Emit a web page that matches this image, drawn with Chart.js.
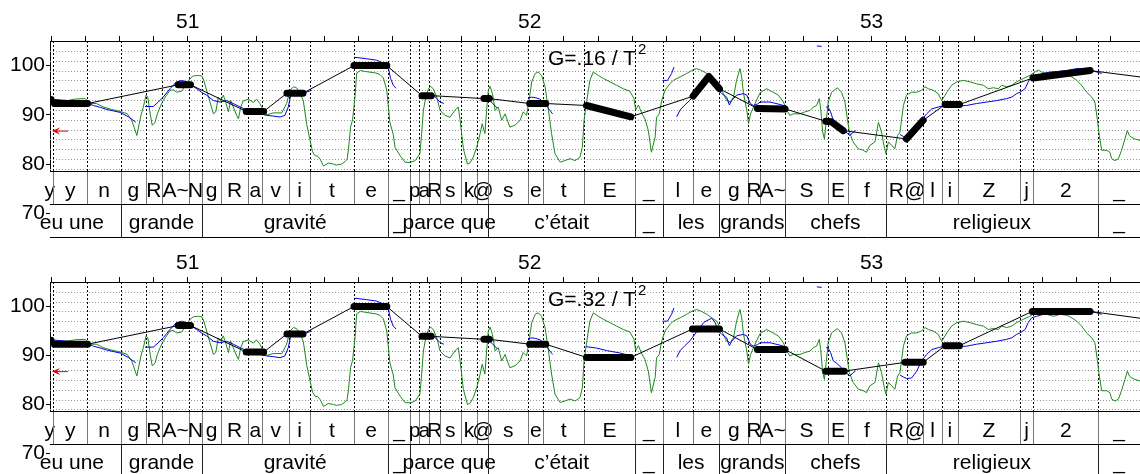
<!DOCTYPE html>
<html>
<head>
<meta charset="utf-8">
<script src="https://cdn.jsdelivr.net/npm/chart.js@4/dist/chart.umd.min.js"></script>
<style>
  html, body { margin: 0; padding: 0; background: #fff; overflow: hidden; }
  canvas { display: block; }
</style>
</head>
<body>
<canvas id="panelA" width="1140" height="241"></canvas>
<canvas id="panelB" width="1140" height="240"></canvas>
<script>
// time window (s) and value axis (ST)
const timeMin = 50.597;
const timeMax = 53.785;
const timeTicks = [50.6, 50.7, 50.8, 50.9, 51.0, 51.1, 51.2, 51.3, 51.4, 51.5, 51.6, 51.7, 51.8, 51.9,
  52.0, 52.1, 52.2, 52.3, 52.4, 52.5, 52.6, 52.7, 52.8, 52.9, 53.0, 53.1, 53.2, 53.3, 53.4, 53.5, 53.6, 53.7];
const valueTicks = [70, 80, 90, 100];
const gridLevels = [79, 81, 83, 85, 87, 89, 91, 93, 95, 97, 99, 101, 103];
const refLevel = 86.7;

// phoneme and word tiers: [start, label], end of last interval below
const phones = [
  [50.585, 'y'], [50.607, 'y'], [50.706, 'n'], [50.804, 'g'], [50.877, 'R'], [50.925, 'A~'], [51.004, 'N'],
  [51.042, 'g'], [51.097, 'R'], [51.177, 'a'], [51.218, 'v'], [51.297, 'i'], [51.357, 't'], [51.486, 'e'],
  [51.586, '_'], [51.650, 'p'], [51.677, 'a'], [51.706, 'R'], [51.738, 's'], [51.798, 'k'], [51.847, '@'],
  [51.879, 's'], [51.996, 'e'], [52.040, 't'], [52.159, 'E'], [52.308, '_'], [52.389, 'l'], [52.478, 'e'],
  [52.555, 'g'], [52.639, 'R'], [52.674, 'A~'], [52.747, 'S'], [52.872, 'E'], [52.932, 'f'], [53.041, 'R'],
  [53.103, '@'], [53.151, 'l'], [53.205, 'i'], [53.252, 'Z'], [53.434, 'j'], [53.473, '2'], [53.663, '_']
];
const words = [
  [50.518, 'eu une'], [50.804, 'grande'], [51.042, 'gravité'], [51.586, '_'], [51.650, 'parce que'],
  [51.879, 'c’était'], [52.308, '_'], [52.389, 'les'], [52.555, 'grands'], [52.747, 'chefs'],
  [53.041, 'religieux'], [53.663, '_']
];
const tierEnd = 53.785;

// intensity (green)
const intensity = [
  [50.600,92.6],[50.640,92.8],[50.670,93.2],[50.700,93.3],[50.714,92.3],[50.733,92.3],[50.753,91.6],[50.777,91.1],
  [50.802,90.7],[50.823,90.2],[50.836,88.9],[50.851,85.8],[50.863,89.9],[50.870,91.6],[50.878,94.0],[50.883,93.6],
  [50.890,90.2],[50.896,87.9],[50.904,88.4],[50.911,90.2],[50.919,91.6],[50.928,92.9],[50.938,94.0],[50.948,95.0],
  [50.958,95.1],[50.967,94.6],[50.982,94.8],[50.992,95.8],[51.006,97.3],[51.016,97.9],[51.031,98.0],[51.041,97.9],
  [51.047,97.0],[51.055,95.0],[51.065,92.6],[51.075,90.2],[51.082,90.6],[51.089,93.6],[51.096,92.9],[51.104,94.0],
  [51.112,92.3],[51.119,90.6],[51.125,93.0],[51.133,91.6],[51.143,89.9],[51.148,89.2],[51.155,91.6],[51.162,92.8],
  [51.177,93.2],[51.192,92.5],[51.201,93.2],[51.211,92.3],[51.221,90.9],[51.231,90.0],[51.250,90.4],[51.275,90.4],
  [51.289,92.3],[51.299,95.0],[51.309,95.7],[51.318,95.5],[51.328,94.5],[51.338,92.8],[51.348,88.0],[51.357,85.0],
  [51.365,82.5],[51.372,81.7],[51.380,81.6],[51.387,81.0],[51.397,79.6],[51.411,80.2],[51.426,80.0],[51.435,79.8],
  [51.450,80.0],[51.460,80.5],[51.466,81.0],[51.470,83.0],[51.476,87.5],[51.482,89.0],[51.489,93.6],[51.494,98.5],
  [51.505,99.0],[51.520,98.8],[51.550,98.5],[51.562,98.2],[51.572,97.5],[51.582,95.0],[51.591,88.5],[51.601,86.0],
  [51.606,83.4],[51.621,81.7],[51.635,80.4],[51.650,80.3],[51.665,80.7],[51.679,82.1],[51.684,86.2],[51.689,90.9],
  [51.696,93.6],[51.704,95.3],[51.710,95.8],[51.718,95.3],[51.728,93.6],[51.738,90.9],[51.752,89.9],[51.767,89.5],
  [51.781,90.9],[51.791,91.6],[51.796,89.2],[51.806,83.1],[51.818,80.0],[51.825,80.2],[51.835,81.4],[51.845,83.4],
  [51.855,86.2],[51.861,88.2],[51.869,86.2],[51.874,90.9],[51.879,95.0],[51.884,95.8],[51.891,94.3],[51.899,90.9],
  [51.908,91.6],[51.918,88.9],[51.928,90.2],[51.942,87.5],[51.957,87.9],[51.972,88.9],[51.981,90.6],[51.991,89.9],
  [51.998,92.9],[52.006,96.7],[52.016,98.4],[52.025,98.7],[52.035,98.0],[52.045,95.7],[52.055,90.9],[52.064,86.2],
  [52.074,82.1],[52.089,80.4],[52.103,80.7],[52.118,81.1],[52.133,80.7],[52.147,81.4],[52.154,83.4],[52.159,88.9],
  [52.167,92.9],[52.176,97.0],[52.186,98.7],[52.201,98.0],[52.215,97.4],[52.235,96.7],[52.254,96.0],[52.274,95.3],
  [52.293,94.8],[52.305,93.3],[52.310,91.0],[52.318,92.0],[52.328,90.3],[52.337,89.2],[52.347,86.8],[52.356,82.4],
  [52.367,85.5],[52.371,89.5],[52.379,90.2],[52.386,92.9],[52.396,95.0],[52.410,96.3],[52.420,97.0],[52.440,97.7],
  [52.459,98.4],[52.474,99.0],[52.488,99.4],[52.503,99.0],[52.518,98.4],[52.532,97.7],[52.547,97.0],[52.557,95.7],
  [52.576,92.9],[52.586,92.6],[52.596,93.6],[52.605,97.0],[52.615,99.4],[52.620,97.7],[52.625,94.5],[52.635,90.9],
  [52.640,88.2],[52.646,90.2],[52.659,92.3],[52.674,94.5],[52.693,95.3],[52.712,94.6],[52.727,94.0],[52.742,92.6],
  [52.752,90.9],[52.761,89.9],[52.771,90.2],[52.790,90.2],[52.805,90.6],[52.820,90.9],[52.830,91.6],[52.839,91.9],
  [52.847,93.3],[52.851,91.2],[52.857,86.5],[52.862,85.1],[52.867,88.5],[52.873,92.6],[52.883,94.6],[52.900,95.5],
  [52.912,94.6],[52.922,92.6],[52.929,89.2],[52.935,86.5],[52.946,84.5],[52.961,83.1],[52.976,82.8],[52.985,82.4],
  [52.995,83.8],[53.010,84.5],[53.020,88.5],[53.029,86.5],[53.036,83.8],[53.042,82.1],[53.049,84.5],[53.059,83.8],
  [53.068,83.1],[53.076,85.8],[53.083,86.5],[53.093,91.9],[53.102,94.0],[53.117,94.6],[53.132,94.6],[53.146,95.0],
  [53.156,95.7],[53.166,95.3],[53.180,95.0],[53.195,94.3],[53.205,92.9],[53.215,94.0],[53.220,94.6],[53.234,96.0],
  [53.249,96.7],[53.268,97.0],[53.288,96.7],[53.307,96.3],[53.327,96.0],[53.341,95.3],[53.356,95.5],[53.371,95.3],
  [53.380,96.0],[53.395,95.7],[53.410,96.0],[53.424,96.7],[53.444,97.4],[53.463,98.0],[53.478,98.7],[53.488,99.1],
  [53.497,98.7],[53.512,98.4],[53.532,98.0],[53.551,98.4],[53.571,98.2],[53.585,97.7],[53.600,97.0],[53.614,96.0],
  [53.629,94.6],[53.644,93.6],[53.653,92.6],[53.660,89.2],[53.666,85.8],[53.673,82.8],[53.688,82.8],[53.697,82.4],
  [53.702,81.1],[53.712,80.7],[53.722,81.1],[53.731,82.8],[53.741,85.1],[53.748,86.8],[53.754,85.8],[53.761,85.4],
  [53.770,85.1],[53.785,84.8]
];

// pitch (blue), voiced stretches
const pitch = [
  [[50.597,93.2],[50.650,92.9],[50.706,92.4],[50.724,91.9],[50.745,91.5],[50.763,91.1],[50.782,90.8],[50.802,90.5],[50.826,89.6],[50.848,88.5]],
  [[50.875,91.7],[50.899,91.7],[50.914,92.6],[50.928,93.6],[50.948,95.3],[50.967,96.7],[50.982,97.0],[50.997,96.7],
   [51.011,96.0],[51.026,95.3],[51.040,94.6],[51.055,94.0],[51.075,92.9],[51.094,92.6],[51.114,92.9],[51.133,92.3],
   [51.153,91.6],[51.172,91.0],[51.192,90.6],[51.211,90.2],[51.231,89.9],[51.250,89.75],[51.270,89.55],[51.284,89.9],
   [51.294,91.6],[51.301,94.0],[51.309,94.85],[51.323,94.6],[51.338,94.4],[51.362,94.97]],
  [[51.487,101.7],[51.523,101.4],[51.552,101.1],[51.577,100.4],[51.587,99.4],[51.593,97.4],[51.601,96.0],[51.609,95.4]],
  [[51.690,94.0],[51.700,94.4],[51.718,94.1],[51.728,93.3],[51.738,92.6],[51.749,92.3]],
  [[51.864,93.6],[51.880,93.1],[51.892,92.3],[51.905,91.4]],
  [[51.996,93.4],[52.006,93.6],[52.016,93.5],[52.030,93.2],[52.045,92.3],[52.059,90.9],[52.067,90.2]],
  [[52.165,91.8],[52.196,91.5],[52.225,91.0],[52.264,90.5],[52.293,90.0]],
  [[52.389,97.0],[52.403,97.0],[52.415,98.4],[52.422,99.7]],
  [[52.430,89.6],[52.440,91.0],[52.454,92.0],[52.469,93.0],[52.490,95.0],[52.510,96.8],[52.532,97.6],[52.541,96.9],
   [52.552,95.0],[52.562,94.3],[52.576,93.6],[52.584,92.0],[52.591,92.9],[52.605,94.0],[52.625,94.3],[52.635,94.0],
   [52.645,92.3],[52.654,91.9],[52.666,92.2],[52.674,92.6],[52.703,92.6],[52.732,92.1],[52.747,91.8]],
  [[52.840,104.0],[52.854,103.9]],
  [[52.867,91.6],[52.873,91.5],[52.880,90.6],[52.888,88.9],[52.898,88.4],[52.912,87.5],[52.922,86.8],[52.929,86.2],
   [52.937,85.8],[52.946,86.5],[52.953,86.8]],
  [[53.083,86.0],[53.093,85.6],[53.102,85.3],[53.117,85.4],[53.132,86.8],[53.146,88.9],[53.161,90.2],[53.176,91.2],
   [53.195,91.6],[53.215,91.9],[53.230,91.9],[53.249,91.8],[53.278,91.9],[53.307,92.3],[53.337,92.6],[53.366,92.9],
   [53.395,93.3],[53.410,93.6],[53.424,94.3],[53.434,94.6],[53.449,95.3],[53.458,96.7],[53.468,97.7],[53.483,98.0],
   [53.502,98.4],[53.522,98.7],[53.541,98.8],[53.571,99.0],[53.600,99.4],[53.619,99.4],[53.639,99.05],[53.658,98.7],
   [53.673,98.4]]
];

// stylized nuclei for G=.16/T2 and G=.32/T2
const nucleiG16 = [
  [[50.595,93.1],[50.600,93.1]], [[50.610,92.3],[50.707,92.3]], [[50.972,96.1],[51.008,96.1]],
  [[51.171,90.7],[51.222,90.7]], [[51.290,94.4],[51.337,94.4]], [[51.486,100.0],[51.582,100.0]],
  [[51.685,93.9],[51.712,93.9]], [[51.866,93.3],[51.882,93.3]], [[52.000,92.3],[52.047,92.3]],
  [[52.166,91.9],[52.296,89.6]], [[52.478,93.8],[52.524,97.8],[52.555,95.3]], [[52.666,91.3],[52.747,91.2]],
  [[52.866,88.7],[52.882,88.6],[52.917,86.8]], [[53.102,85.1],[53.151,88.9]], [[53.215,92.1],[53.257,92.1]],
  [[53.472,97.5],[53.639,99.0]]
];
const nucleiG32 = [
  [[50.595,93.1],[50.600,93.1]], [[50.610,92.3],[50.707,92.3]], [[50.972,96.1],[51.008,96.1]],
  [[51.171,90.7],[51.222,90.7]], [[51.290,94.4],[51.337,94.4]], [[51.486,100.0],[51.582,100.0]],
  [[51.685,93.9],[51.712,93.9]], [[51.866,93.3],[51.882,93.3]], [[52.000,92.3],[52.047,92.3]],
  [[52.166,89.6],[52.296,89.6]], [[52.476,95.4],[52.555,95.4]], [[52.666,91.2],[52.747,91.2]],
  [[52.866,86.8],[52.920,86.8]], [[53.098,88.6],[53.151,88.6]], [[53.215,92.0],[53.257,92.0]],
  [[53.470,99.0],[53.639,99.0]]
];
const tailG16 = [53.785, 97.7];
const tailG32 = [53.785, 97.6];

const FONT = "'Liberation Sans', Arial, sans-serif";

function toPoints(list) {
  return list.map(p => ({ x: p[0], y: p[1] }));
}
function segmentsToPoints(segs) {
  const pts = [];
  segs.forEach(s => {
    s.forEach(p => pts.push({ x: p[0], y: p[1] }));
    pts.push({ x: s[s.length - 1][0] + 0.0005, y: null });
  });
  return pts;
}

// grid, boundaries, tiers, arrow, label
const prosodyPlugin = {
  id: 'prosody',
  beforeDatasetsDraw(chart) {
    const { ctx, chartArea: a, scales: { x, y } } = chart;
    const tierTop = a.bottom - 66;
    ctx.save();
    ctx.lineWidth = 1;
    ctx.strokeStyle = '#999';
    ctx.setLineDash([1, 2]);
    gridLevels.forEach(v => {
      const py = Math.round(y.getPixelForValue(v)) + 0.5;
      ctx.beginPath(); ctx.moveTo(a.left, py); ctx.lineTo(a.right, py); ctx.stroke();
    });
    ctx.strokeStyle = '#000';
    ctx.setLineDash([2, 2]);
    phones.forEach(p => {
      if (p[0] <= timeMin || p[0] >= timeMax) return;
      const px = Math.round(x.getPixelForValue(p[0])) + 0.5;
      ctx.beginPath(); ctx.moveTo(px, a.top); ctx.lineTo(px, tierTop); ctx.stroke();
    });
    ctx.restore();
  },
  afterDatasetsDraw(chart, args, opts) {
    const { ctx, chartArea: a, scales: { x, y } } = chart;
    const rows = [a.bottom - 66, a.bottom - 33, a.bottom];
    ctx.save();
    ctx.fillStyle = '#fff';
    ctx.fillRect(a.left, rows[0], a.right - a.left, rows[2] - rows[0]);

    const drawTier = (items, top, bottom, lineColor, baseline) => {
      ctx.strokeStyle = lineColor;
      ctx.lineWidth = 1;
      items.forEach((it, i) => {
        const end = i + 1 < items.length ? items[i + 1][0] : tierEnd;
        if (it[0] > timeMin && it[0] < timeMax) {
          const px = Math.round(x.getPixelForValue(it[0])) + 0.5;
          ctx.beginPath(); ctx.moveTo(px, top); ctx.lineTo(px, bottom); ctx.stroke();
        }
        const cx = (x.getPixelForValue(it[0]) + x.getPixelForValue(end)) / 2;
        ctx.fillStyle = '#000';
        ctx.fillText(it[1], cx, baseline);
      });
    };
    ctx.font = '21px ' + FONT;
    ctx.textAlign = 'center';
    ctx.textBaseline = 'alphabetic';
    drawTier(phones, rows[0], rows[1], '#777', rows[0] + 25);
    drawTier(words, rows[1], rows[2], '#222', rows[1] + 24);

    ctx.strokeStyle = '#000';
    ctx.beginPath();
    rows.forEach(r => {
      const py = Math.round(r) - 0.5;
      ctx.moveTo(a.left, py); ctx.lineTo(a.right, py);
    });
    ctx.stroke();

    // red reference arrow
    const ay = y.getPixelForValue(refLevel);
    const tip = a.left + 2;
    ctx.strokeStyle = '#e00000';
    ctx.fillStyle = '#e00000';
    ctx.beginPath(); ctx.moveTo(tip + 4, ay); ctx.lineTo(a.left + 18, ay); ctx.stroke();
    ctx.beginPath();
    ctx.moveTo(tip, ay); ctx.lineTo(tip + 8, ay - 3.5); ctx.lineTo(tip + 5, ay); ctx.lineTo(tip + 8, ay + 3.5);
    ctx.closePath(); ctx.fill();

    // glissando threshold label
    ctx.fillStyle = '#000';
    ctx.textAlign = 'left';
    ctx.font = '21px ' + FONT;
    ctx.fillText(opts.label, 548, a.top + 23.5);
    const w = ctx.measureText(opts.label).width;
    ctx.font = '15px ' + FONT;
    ctx.fillText('2', 548 + w + 2, a.top + 12.5);
    ctx.restore();
  }
};

function makePanel(id, nuclei, tail, label) {
  const thin = toPoints(nuclei.flat()).concat([{ x: tail[0], y: tail[1] }]);
  new Chart(document.getElementById(id), {
    type: 'line',
    data: {
      datasets: [
        { data: segmentsToPoints(nuclei), borderColor: '#000', borderWidth: 7,
          borderCapStyle: 'round', borderJoinStyle: 'round', pointRadius: 0, spanGaps: false },
        { data: thin, borderColor: '#000', borderWidth: 1, pointRadius: 0 },
        { data: segmentsToPoints(pitch), borderColor: '#0000e6', borderWidth: 1, pointRadius: 0, spanGaps: false },
        { data: toPoints(intensity), borderColor: '#1a8a1a', borderWidth: 1, pointRadius: 0 }
      ]
    },
    options: {
      responsive: false,
      animation: false,
      events: [],
      layout: { padding: { left: 0, right: 0, top: 0, bottom: 3 } },
      plugins: { legend: { display: false }, tooltip: { enabled: false }, prosody: { label } },
      scales: {
        x: {
          type: 'linear', position: 'top', min: timeMin, max: timeMax,
          afterBuildTicks: s => { s.ticks = timeTicks.map(v => ({ value: v })); },
          afterFit: s => { s.height = 41; },
          ticks: {
            autoSkip: false, maxRotation: 0, padding: 1, color: '#000',
            font: { family: FONT, size: 21 },
            callback: v => { const r = Math.round(v * 10); return r % 10 === 0 ? String(r / 10) : ''; }
          },
          grid: { drawOnChartArea: false, drawTicks: true, tickLength: 5, color: '#000' },
          border: { display: true, color: '#000', width: 1 }
        },
        y: {
          type: 'linear', position: 'left', min: 65, max: 105,
          afterBuildTicks: s => { s.ticks = valueTicks.map(v => ({ value: v })); },
          afterFit: s => { s.width = 50; },
          ticks: { padding: 1, color: '#000', font: { family: FONT, size: 21, lineHeight: 0.2 } },
          grid: { drawOnChartArea: false, drawTicks: true, tickLength: 4, color: '#000' },
          border: { display: true, color: '#000', width: 1 }
        }
      }
    },
    plugins: [prosodyPlugin]
  });
}

document.addEventListener('DOMContentLoaded', () => {
  makePanel('panelA', nucleiG16, tailG16, 'G=.16 / T');
  makePanel('panelB', nucleiG32, tailG32, 'G=.32 / T');
});
</script>
</body>
</html>
